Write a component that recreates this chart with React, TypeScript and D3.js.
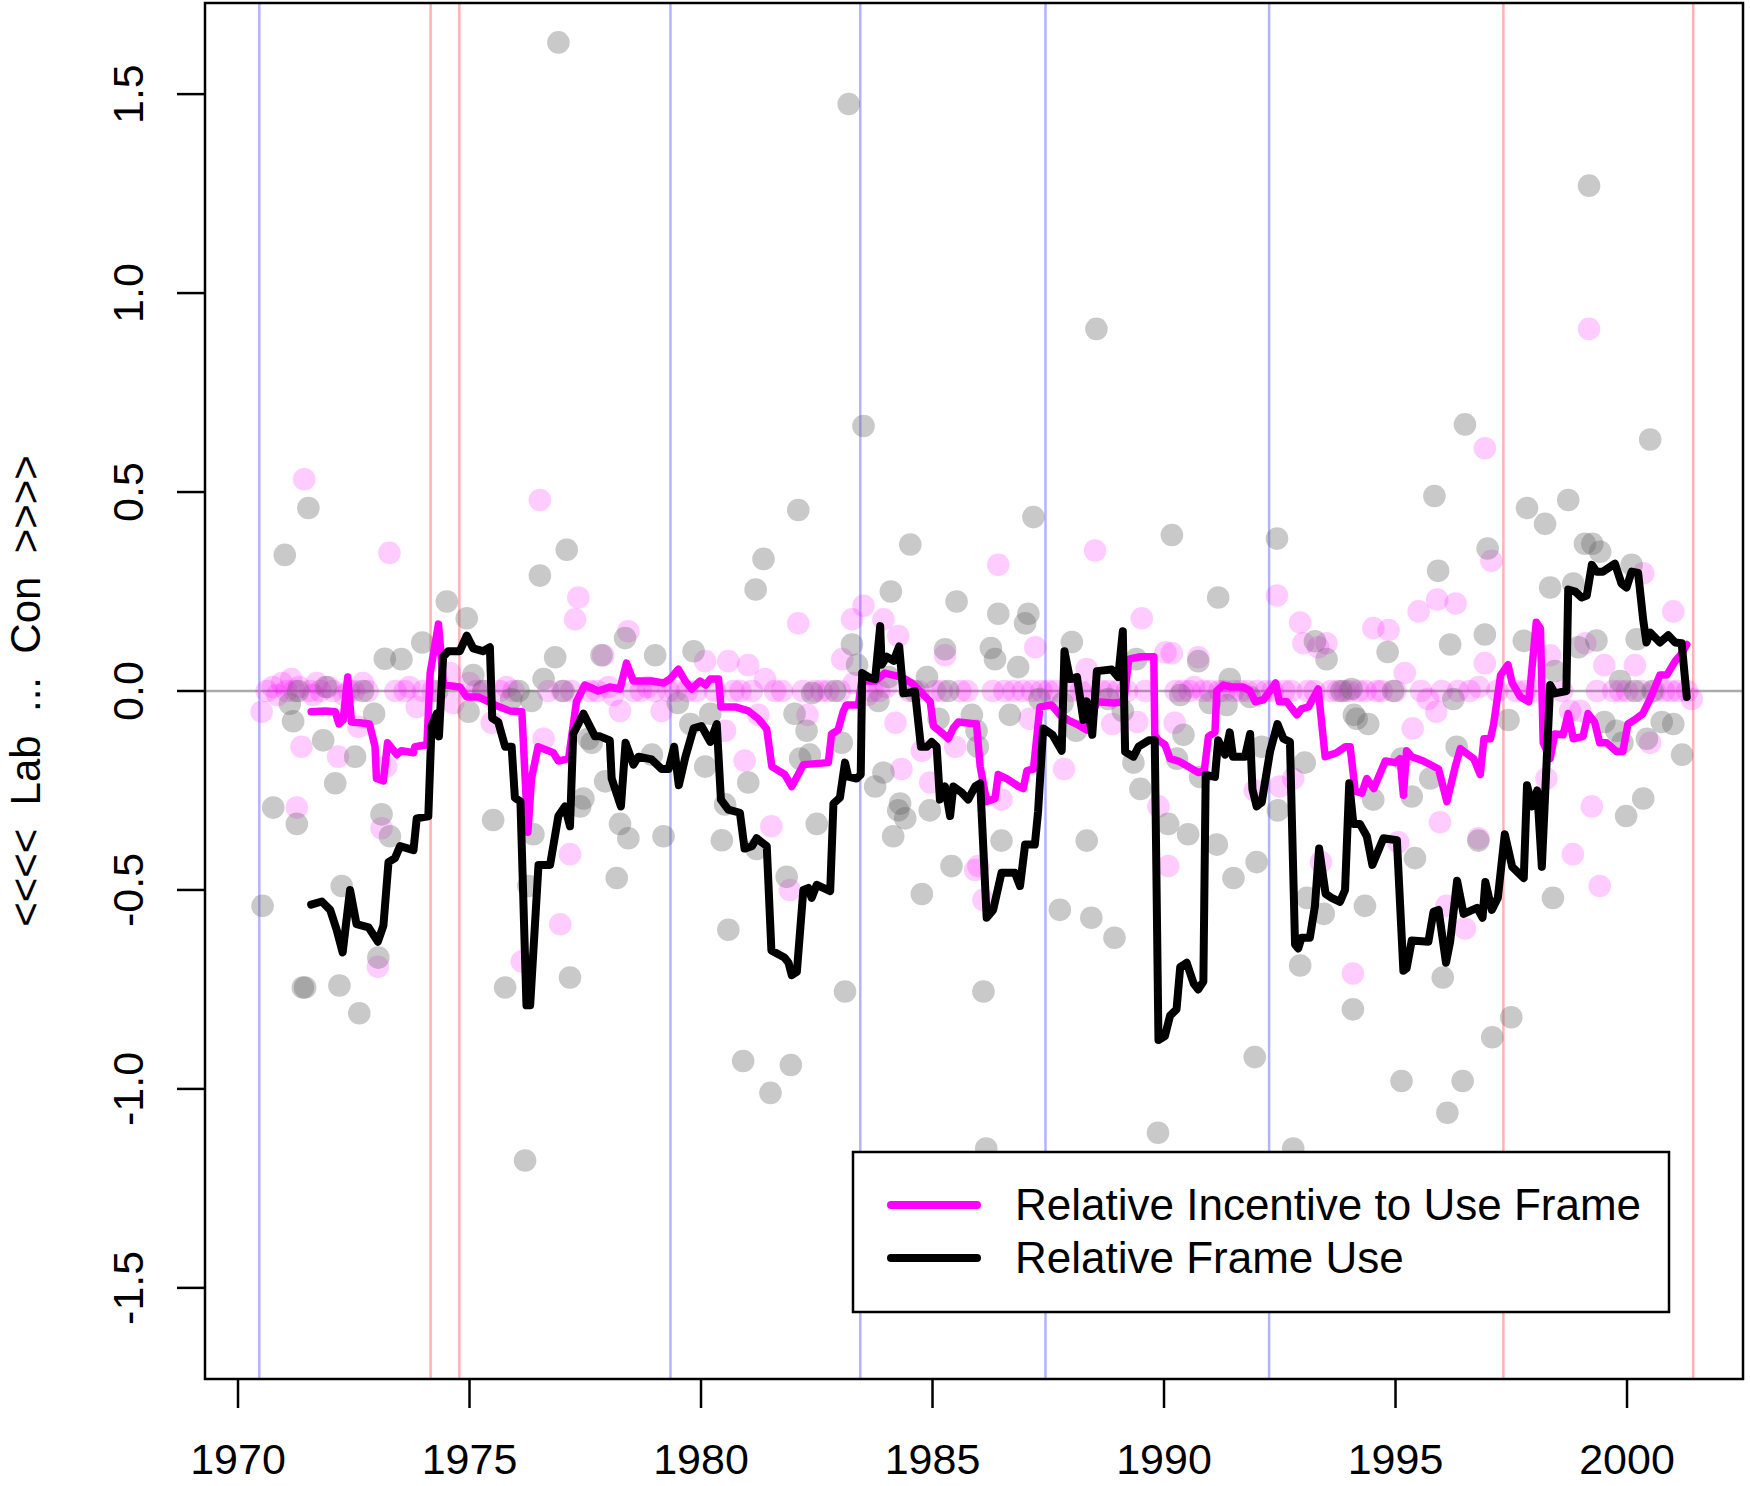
import React from "react";
import * as d3 from "d3";

// ---------- data ----------
const xTicks = [1970, 1975, 1980, 1985, 1990, 1995, 2000];
const yTicks = [-1.5, -1.0, -0.5, 0.0, 0.5, 1.0, 1.5];
const yTickLabels = ["-1.5", "-1.0", "-0.5", "0.0", "0.5", "1.0", "1.5"];

const conElections = [1970.46, 1979.34, 1983.44, 1987.44, 1992.27];
const labElections = [1974.16, 1974.78, 1997.33, 2001.43];

const legendLabels = ["Relative Incentive to Use Frame", "Relative Frame Use"];

const frameUse: [number, number][] = [
  [1971.58,-0.537],[1971.81,-0.529],[1971.99,-0.55],[1972.13,-0.60],[1972.26,-0.657],[1972.42,-0.50],[1972.56,-0.586],[1972.82,-0.594],[1973.02,-0.63],[1973.14,-0.59],[1973.25,-0.43],[1973.39,-0.42],[1973.50,-0.39],[1973.79,-0.40],[1973.86,-0.32],[1974.11,-0.315],[1974.18,-0.088],[1974.29,-0.057],[1974.34,-0.114],[1974.43,0.086],[1974.54,0.10],[1974.79,0.10],[1974.94,0.139],[1975.08,0.107],[1975.29,0.10],[1975.44,0.11],[1975.49,-0.068],[1975.62,-0.078],[1975.77,-0.14],[1975.91,-0.14],[1975.98,-0.268],[1976.10,-0.278],[1976.23,-0.79],[1976.31,-0.79],[1976.49,-0.437],[1976.74,-0.437],[1976.92,-0.314],[1977.06,-0.29],[1977.17,-0.34],[1977.24,-0.108],[1977.46,-0.057],[1977.71,-0.114],[1977.82,-0.114],[1978.03,-0.124],[1978.07,-0.22],[1978.27,-0.29],[1978.37,-0.13],[1978.54,-0.185],[1978.65,-0.165],[1978.93,-0.172],[1979.15,-0.196],[1979.30,-0.196],[1979.42,-0.14],[1979.52,-0.237],[1979.66,-0.167],[1979.84,-0.094],[1980.01,-0.088],[1980.20,-0.128],[1980.34,-0.083],[1980.43,-0.273],[1980.59,-0.298],[1980.84,-0.306],[1980.94,-0.396],[1981.10,-0.39],[1981.20,-0.37],[1981.42,-0.39],[1981.52,-0.652],[1981.80,-0.67],[1981.89,-0.683],[1981.96,-0.714],[1982.07,-0.706],[1982.21,-0.50],[1982.32,-0.495],[1982.39,-0.52],[1982.50,-0.487],[1982.79,-0.503],[1982.86,-0.283],[1983.00,-0.268],[1983.11,-0.18],[1983.18,-0.215],[1983.36,-0.22],[1983.45,-0.21],[1983.48,0.045],[1983.65,0.033],[1983.76,0.03],[1983.87,0.163],[1983.90,0.066],[1984.01,0.086],[1984.16,0.076],[1984.28,0.112],[1984.37,-0.006],[1984.52,-0.004],[1984.62,0],[1984.75,-0.14],[1984.88,-0.14],[1984.98,-0.128],[1985.09,-0.14],[1985.16,-0.273],[1985.27,-0.24],[1985.38,-0.314],[1985.45,-0.24],[1985.63,-0.255],[1985.77,-0.273],[1985.92,-0.24],[1986.03,-0.232],[1986.17,-0.57],[1986.31,-0.55],[1986.49,-0.457],[1986.78,-0.457],[1986.89,-0.49],[1987.00,-0.386],[1987.21,-0.386],[1987.28,-0.303],[1987.39,-0.094],[1987.59,-0.11],[1987.79,-0.15],[1987.85,0.10],[1987.97,0.03],[1988.12,0.035],[1988.26,-0.073],[1988.33,-0.026],[1988.45,-0.11],[1988.55,0.05],[1988.87,0.054],[1989.01,0.035],[1989.11,0.15],[1989.16,-0.153],[1989.34,-0.165],[1989.45,-0.14],[1989.67,-0.124],[1989.80,-0.124],[1989.88,-0.877],[1990.02,-0.867],[1990.13,-0.816],[1990.27,-0.80],[1990.35,-0.694],[1990.49,-0.683],[1990.64,-0.735],[1990.74,-0.75],[1990.85,-0.73],[1990.90,-0.211],[1991.10,-0.216],[1991.17,-0.124],[1991.32,-0.16],[1991.42,-0.104],[1991.49,-0.165],[1991.75,-0.165],[1991.86,-0.108],[1991.91,-0.247],[1992.00,-0.29],[1992.11,-0.28],[1992.29,-0.152],[1992.45,-0.083],[1992.58,-0.12],[1992.72,-0.128],[1992.83,-0.637],[1992.90,-0.647],[1992.97,-0.62],[1993.15,-0.62],[1993.26,-0.54],[1993.35,-0.396],[1993.49,-0.51],[1993.62,-0.52],[1993.80,-0.53],[1993.91,-0.50],[1994.00,-0.232],[1994.09,-0.334],[1994.23,-0.334],[1994.38,-0.365],[1994.50,-0.437],[1994.74,-0.37],[1995.03,-0.375],[1995.17,-0.703],[1995.24,-0.697],[1995.35,-0.627],[1995.71,-0.63],[1995.82,-0.555],[1995.93,-0.55],[1996.09,-0.683],[1996.18,-0.63],[1996.33,-0.477],[1996.47,-0.56],[1996.76,-0.545],[1996.88,-0.57],[1996.94,-0.48],[1997.08,-0.55],[1997.21,-0.52],[1997.36,-0.36],[1997.52,-0.442],[1997.77,-0.47],[1997.84,-0.237],[1997.95,-0.29],[1998.06,-0.25],[1998.16,-0.442],[1998.34,0.015],[1998.44,-0.006],[1998.69,0],[1998.73,0.255],[1998.88,0.25],[1999.02,0.235],[1999.13,0.24],[1999.24,0.317],[1999.34,0.30],[1999.48,0.30],[1999.74,0.32],[1999.88,0.27],[1999.99,0.26],[2000.10,0.30],[2000.24,0.297],[2000.35,0.178],[2000.42,0.122],[2000.50,0.147],[2000.71,0.122],[2000.89,0.14],[2001.04,0.122],[2001.18,0.12],[2001.29,-0.015]
];

const incentive: [number, number][] = [
  [1971.58,-0.052],[1971.88,-0.05],[1972.10,-0.052],[1972.18,-0.083],[1972.27,-0.073],[1972.37,0.035],[1972.45,-0.078],[1972.63,-0.08],[1972.84,-0.083],[1972.96,-0.14],[1972.99,-0.22],[1973.14,-0.226],[1973.23,-0.13],[1973.43,-0.16],[1973.53,-0.15],[1973.79,-0.155],[1973.82,-0.14],[1974.08,-0.135],[1974.15,0.045],[1974.33,0.168],[1974.44,0.015],[1974.79,0.01],[1974.94,-0.015],[1975.19,-0.015],[1975.55,-0.035],[1975.87,-0.05],[1976.13,-0.052],[1976.26,-0.355],[1976.34,-0.22],[1976.48,-0.14],[1976.81,-0.155],[1976.92,-0.176],[1977.14,-0.17],[1977.31,-0.027],[1977.49,0.015],[1977.78,0],[1978.03,0.01],[1978.25,0.005],[1978.39,0.07],[1978.54,0.025],[1978.93,0.025],[1979.19,0.02],[1979.33,0.03],[1979.51,0.055],[1979.66,0.025],[1979.80,0.005],[1979.98,0.025],[1980.10,0.015],[1980.20,0.03],[1980.38,0.03],[1980.43,-0.04],[1980.74,-0.04],[1981.02,-0.05],[1981.24,-0.07],[1981.42,-0.096],[1981.53,-0.19],[1981.81,-0.21],[1981.96,-0.24],[1982.10,-0.21],[1982.21,-0.185],[1982.75,-0.18],[1982.82,-0.108],[1982.96,-0.098],[1983.07,-0.052],[1983.14,-0.035],[1983.40,-0.035],[1983.47,0.025],[1983.76,0.025],[1983.97,0.045],[1984.33,0.035],[1984.55,0.02],[1984.77,-0.005],[1984.95,-0.027],[1985.02,-0.088],[1985.23,-0.108],[1985.34,-0.12],[1985.45,-0.093],[1985.56,-0.078],[1985.95,-0.083],[1986.03,-0.19],[1986.17,-0.278],[1986.35,-0.27],[1986.42,-0.21],[1986.60,-0.22],[1986.86,-0.24],[1986.96,-0.245],[1987.04,-0.20],[1987.18,-0.196],[1987.32,-0.04],[1987.57,-0.035],[1987.75,-0.06],[1987.93,-0.073],[1988.11,-0.083],[1988.33,-0.098],[1988.55,-0.027],[1988.91,-0.03],[1989.13,-0.027],[1989.24,0.08],[1989.49,0.086],[1989.78,0.086],[1989.80,-0.11],[1989.88,-0.124],[1990.02,-0.135],[1990.13,-0.17],[1990.31,-0.176],[1990.45,-0.185],[1990.74,-0.205],[1990.87,-0.20],[1990.96,-0.114],[1991.10,-0.104],[1991.14,0],[1991.28,0.015],[1991.46,0.01],[1991.71,0.01],[1991.86,0],[1991.97,-0.027],[1992.15,-0.022],[1992.41,0.02],[1992.49,-0.027],[1992.65,-0.027],[1992.87,-0.06],[1992.97,-0.045],[1993.12,-0.04],[1993.33,0.005],[1993.48,-0.165],[1993.73,-0.155],[1993.92,-0.14],[1994.02,-0.14],[1994.13,-0.252],[1994.27,-0.257],[1994.38,-0.22],[1994.53,-0.245],[1994.78,-0.176],[1995.00,-0.18],[1995.10,-0.17],[1995.17,-0.262],[1995.24,-0.15],[1995.35,-0.165],[1995.60,-0.176],[1995.93,-0.196],[1996.11,-0.278],[1996.29,-0.19],[1996.40,-0.145],[1996.69,-0.17],[1996.83,-0.21],[1996.91,-0.12],[1997.05,-0.12],[1997.12,-0.083],[1997.27,0.04],[1997.43,0.066],[1997.52,0.02],[1997.70,-0.015],[1997.88,-0.027],[1998.04,0.173],[1998.13,0.157],[1998.19,-0.13],[1998.34,-0.17],[1998.44,-0.108],[1998.62,-0.11],[1998.73,-0.057],[1998.84,-0.12],[1999.05,-0.114],[1999.16,-0.057],[1999.30,-0.078],[1999.41,-0.13],[1999.56,-0.13],[1999.77,-0.152],[1999.91,-0.152],[2000.02,-0.083],[2000.16,-0.073],[2000.34,-0.057],[2000.50,-0.02],[2000.71,0.04],[2000.86,0.04],[2001.04,0.075],[2001.18,0.094],[2001.29,0.117]
];

const grayDots: [number, number][] = [
  [1970.53,-0.54],[1970.76,-0.293],[1971.01,0.342],[1971.12,-0.032],[1971.19,-0.076],[1971.27,-0.334],[1971.30,0.0],[1971.40,-0.745],[1971.45,-0.745],[1971.52,0.46],[1971.84,-0.124],[1971.90,0.01],[1972.10,-0.232],[1972.19,-0.74],[1972.24,-0.49],[1972.53,-0.165],[1972.62,-0.81],[1972.70,0.0],[1972.94,-0.057],[1973.03,-0.67],[1973.10,-0.31],[1973.17,0.081],[1973.28,-0.365],[1973.53,0.08],[1973.98,0.122],[1974.30,0.0],[1974.51,0.225],[1974.94,0.183],[1974.98,-0.052],[1975.08,0.04],[1975.30,0.0],[1975.51,-0.324],[1975.77,-0.745],[1975.90,-0.02],[1976.06,0.0],[1976.20,-1.18],[1976.27,-0.49],[1976.34,-0.025],[1976.38,-0.36],[1976.52,0.29],[1976.60,0.03],[1976.85,0.085],[1976.92,1.63],[1977.03,0.0],[1977.10,0.355],[1977.17,-0.72],[1977.39,-0.29],[1977.46,-0.27],[1977.57,-0.12],[1977.64,-0.13],[1977.85,0.09],[1977.93,-0.227],[1978.18,-0.47],[1978.25,-0.334],[1978.36,0.133],[1978.43,-0.37],[1978.94,-0.16],[1979.01,0.09],[1979.19,-0.365],[1979.50,-0.03],[1979.77,-0.083],[1979.84,0.10],[1980.09,-0.19],[1980.20,-0.057],[1980.45,-0.375],[1980.52,-0.285],[1980.59,-0.60],[1980.91,-0.93],[1981.02,-0.23],[1981.18,0.255],[1981.20,-0.397],[1981.35,0.332],[1981.50,-1.01],[1981.85,-0.467],[1981.94,-0.94],[1982.02,-0.057],[1982.10,0.455],[1982.14,-0.17],[1982.28,-0.10],[1982.35,-0.16],[1982.40,-0.005],[1982.50,-0.334],[1982.90,0.0],[1983.04,-0.13],[1983.11,-0.755],[1983.19,1.475],[1983.26,0.117],[1983.37,0.066],[1983.51,0.666],[1983.76,-0.24],[1983.83,-0.025],[1983.94,-0.205],[1984.05,0.035],[1984.10,0.25],[1984.15,-0.365],[1984.26,-0.30],[1984.30,-0.283],[1984.41,-0.32],[1984.52,0.368],[1984.60,0.0],[1984.77,-0.51],[1984.88,0.035],[1984.94,-0.30],[1985.13,-0.07],[1985.27,0.105],[1985.34,0.0],[1985.41,-0.44],[1985.52,0.225],[1985.85,-0.06],[1985.95,-0.10],[1985.98,-0.14],[1986.10,-0.755],[1986.16,-1.15],[1986.26,0.108],[1986.35,0.08],[1986.42,0.194],[1986.49,-0.376],[1986.67,-0.06],[1986.85,0.06],[1987.00,0.17],[1987.07,0.194],[1987.18,0.437],[1987.31,-0.02],[1987.75,-0.55],[1987.81,-0.03],[1988.01,0.123],[1988.10,-0.10],[1988.33,-0.376],[1988.43,-0.57],[1988.54,0.91],[1988.80,-0.02],[1988.93,-0.62],[1989.11,-0.05],[1989.34,-0.18],[1989.40,0.08],[1989.49,-0.246],[1989.87,-1.11],[1990.09,-0.334],[1990.17,0.392],[1990.28,-0.17],[1990.35,-0.01],[1990.42,-0.11],[1990.52,-0.36],[1990.74,0.075],[1990.78,-0.216],[1990.99,-0.03],[1991.14,-0.386],[1991.17,0.235],[1991.35,-0.035],[1991.42,0.03],[1991.50,-0.47],[1991.86,-0.015],[1991.96,-0.92],[1992.00,-0.43],[1992.11,-0.14],[1992.44,0.383],[1992.46,-0.30],[1992.79,-1.15],[1992.94,-0.69],[1993.04,-0.18],[1993.09,-0.52],[1993.26,0.125],[1993.45,-0.56],[1993.51,0.08],[1993.83,0.0],[1994.05,0.005],[1994.08,-0.80],[1994.10,-0.06],[1994.16,-0.07],[1994.34,-0.54],[1994.41,-0.083],[1994.52,-0.273],[1994.83,0.098],[1994.95,0.0],[1995.13,-0.17],[1995.13,-0.98],[1995.35,-0.265],[1995.42,-0.42],[1995.75,-0.22],[1995.84,0.49],[1995.92,0.302],[1996.02,-0.72],[1996.12,-1.06],[1996.18,0.117],[1996.25,-0.02],[1996.32,-0.14],[1996.45,-0.98],[1996.50,0.67],[1996.79,-0.376],[1996.93,0.142],[1996.99,0.358],[1997.09,-0.87],[1997.44,-0.073],[1997.50,-0.82],[1997.77,0.126],[1997.84,0.46],[1998.23,0.42],[1998.34,0.26],[1998.40,-0.52],[1998.44,0.05],[1998.73,0.48],[1998.84,0.27],[1998.95,0.11],[1999.09,0.37],[1999.18,1.27],[1999.25,0.37],[1999.34,0.127],[1999.42,0.35],[1999.51,-0.078],[1999.77,-0.10],[1999.85,0.025],[1999.90,-0.13],[1999.98,-0.314],[2000.10,0.317],[2000.17,0.0],[2000.21,0.13],[2000.35,-0.27],[2000.43,-0.12],[2000.50,0.632],[2000.55,0.0],[2000.75,-0.078],[2001.00,-0.083],[2001.19,-0.16]
];

const magentaDots: [number, number][] = [
  [1970.51,-0.052],[1971.37,-0.14],[1971.27,-0.293],[1971.43,0.532],[1972.16,-0.165],[1972.60,-0.09],[1973.02,-0.693],[1973.10,-0.345],[1973.20,-0.19],[1973.27,0.347],[1973.86,-0.04],[1974.58,0.045],[1975.48,-0.08],[1976.13,-0.68],[1976.52,0.48],[1976.60,-0.12],[1976.96,-0.586],[1977.17,-0.41],[1977.28,0.18],[1977.35,0.235],[1977.89,0.09],[1978.25,-0.05],[1978.43,0.15],[1979.15,-0.05],[1980.09,0.075],[1980.52,-0.10],[1980.59,0.075],[1980.94,-0.175],[1981.02,0.065],[1981.24,-0.06],[1981.38,0.03],[1981.52,-0.34],[1981.92,-0.50],[1982.10,0.17],[1982.30,-0.06],[1983.05,0.08],[1983.26,0.18],[1983.51,0.214],[1983.94,0.18],[1984.20,-0.08],[1984.26,0.138],[1984.33,-0.196],[1984.77,-0.15],[1984.95,-0.23],[1985.27,0.09],[1985.49,-0.14],[1985.92,-0.45],[1985.99,-0.44],[1986.10,-0.525],[1986.42,0.317],[1986.49,-0.273],[1987.10,-0.07],[1987.22,0.11],[1987.84,-0.196],[1988.33,0.055],[1988.51,0.353],[1988.88,-0.083],[1989.42,-0.078],[1989.52,0.183],[1989.88,-0.29],[1990.03,0.097],[1990.09,-0.44],[1990.17,0.095],[1990.23,-0.08],[1990.74,0.085],[1991.96,-0.25],[1992.44,0.24],[1992.50,-0.24],[1992.79,-0.22],[1992.94,0.172],[1993.01,0.12],[1993.33,0.11],[1993.39,-0.43],[1993.51,0.12],[1994.08,-0.71],[1994.52,0.158],[1994.85,0.153],[1995.06,-0.38],[1995.20,0.045],[1995.37,-0.094],[1995.50,0.20],[1995.88,-0.052],[1995.90,0.23],[1995.96,-0.33],[1996.10,-0.54],[1996.30,0.22],[1996.50,-0.597],[1996.79,-0.37],[1996.93,0.61],[1996.93,0.07],[1997.07,0.327],[1998.26,-0.22],[1998.34,0.09],[1998.77,-0.05],[1998.83,-0.41],[1998.99,-0.05],[1999.10,0.12],[1999.18,0.91],[1999.24,-0.29],[1999.41,-0.49],[1999.51,0.065],[2000.17,0.065],[2000.35,0.296],[2000.50,-0.13],[2001.00,0.2]
];

const magentaZeroDots: [number, number][] = [
  [1970.62,0.0],[1970.75,0.01],[1970.85,-0.01],[1970.95,0.02],[1971.05,0.0],[1971.15,0.03],[1971.22,0.0],[1971.32,0.01],[1971.55,0.0],[1971.62,-0.01],[1971.70,0.02],[1971.78,0.0],[1971.95,0.01],[1972.05,0.0],[1972.30,-0.01],[1972.40,0.0],[1972.50,0.0],[1972.70,0.02],[1972.80,0.0],[1973.40,0.0],[1973.60,0.0],[1973.70,0.01],[1974.00,0.0],[1974.20,0.0],[1974.65,-0.03],[1975.00,0.02],[1975.15,0.0],[1975.30,0.0],[1975.65,0.0],[1975.80,0.01],[1975.95,0.0],[1976.70,0.0],[1977.00,0.0],[1977.20,0.0],[1977.60,0.0],[1977.75,0.0],[1978.00,0.01],[1978.10,-0.01],[1978.55,0.0],[1978.70,0.0],[1978.85,0.01],[1979.00,0.0],[1979.30,0.0],[1979.45,0.0],[1979.70,0.0],[1979.90,0.0],[1980.30,0.0],[1980.70,0.0],[1980.85,0.0],[1981.10,0.0],[1981.60,0.0],[1981.75,0.0],[1982.20,0.0],[1982.45,0.0],[1982.60,0.0],[1982.75,0.0],[1983.00,0.0],[1983.30,0.02],[1983.60,-0.01],[1983.70,0.0],[1983.85,0.0],[1984.00,0.01],[1984.50,0.0],[1984.70,0.0],[1985.05,0.0],[1985.20,0.0],[1985.60,0.0],[1985.75,0.0],[1986.30,0.0],[1986.55,0.0],[1986.75,0.0],[1986.95,0.0],[1987.15,0.0],[1987.35,0.0],[1987.50,0.0],[1987.65,0.0],[1988.00,0.0],[1988.20,0.0],[1988.40,0.0],[1988.65,0.0],[1988.80,0.0],[1989.00,0.0],[1989.20,0.0],[1989.60,0.0],[1990.25,0.0],[1990.40,0.0],[1990.55,0.0],[1990.65,0.01],[1990.85,0.0],[1991.00,0.0],[1991.20,0.0],[1991.30,0.0],[1991.50,0.0],[1991.65,0.0],[1991.80,0.0],[1992.00,0.0],[1992.20,0.0],[1992.35,0.0],[1992.60,0.0],[1992.75,0.0],[1993.10,0.0],[1993.25,0.0],[1993.60,0.0],[1993.75,0.0],[1993.90,0.0],[1994.00,0.0],[1994.20,0.0],[1994.35,0.0],[1994.60,0.0],[1994.70,0.0],[1995.00,0.0],[1995.55,0.0],[1995.70,-0.02],[1996.00,0.0],[1996.35,0.0],[1996.60,0.0],[1996.80,0.01],[1997.20,0.0],[1997.60,0.0],[1997.80,0.0],[1998.05,0.0],[1998.60,0.0],[1999.35,0.0],[1999.70,0.0],[1999.85,0.0],[2000.00,0.0],[2000.30,0.0],[2000.60,0.0],[2000.80,0.0],[2000.95,0.0],[2001.10,0.0],[2001.30,0.0],[2001.40,-0.02]
];

// ---------- layout ----------
const W = 1750;
const H = 1486;
const plot = { left: 205, right: 1743, top: 3, bottom: 1379 };
const FONT = "'Liberation Sans', Arial, Helvetica, sans-serif";

export default function App() {
  const x = d3.scaleLinear().domain([1969.287, 2002.505]).range([plot.left, plot.right]);
  const y = d3.scaleLinear().domain([-1.729, 1.729]).range([plot.bottom, plot.top]);
  const line = d3
    .line<[number, number]>()
    .x((d) => x(d[0]))
    .y((d) => y(d[1]));

  const legend = { x: 853, y: 1152, w: 816, h: 160 };
  const legendRows = [legend.y + 53, legend.y + 106];

  return (
    <svg
      width={W}
      height={H}
      style={{ position: "absolute", left: 0, top: 0, background: "#fff" }}
      fontFamily={FONT}
    >
      <defs>
        <clipPath id="plotclip">
          <rect x={plot.left} y={plot.top} width={plot.right - plot.left} height={plot.bottom - plot.top} />
        </clipPath>
      </defs>
      <rect x={0} y={0} width={W} height={H} fill="#fff" />
      <g clipPath="url(#plotclip)">
        {conElections.map((e, i) => (
          <line key={"c" + i} x1={x(e)} x2={x(e)} y1={plot.top} y2={plot.bottom} stroke="rgba(0,0,255,0.3)" strokeWidth={2.5} />
        ))}
        {labElections.map((e, i) => (
          <line key={"l" + i} x1={x(e)} x2={x(e)} y1={plot.top} y2={plot.bottom} stroke="rgba(255,0,0,0.3)" strokeWidth={2.5} />
        ))}
        <line x1={plot.left} x2={plot.right} y1={y(0)} y2={y(0)} stroke="#aaaaaa" strokeWidth={2.5} />
        {magentaZeroDots.map((d, i) => (
          <circle key={"mz" + i} cx={x(d[0])} cy={y(d[1])} r={11.3} fill="rgba(255,0,255,0.2)" />
        ))}
        {magentaDots.map((d, i) => (
          <circle key={"m" + i} cx={x(d[0])} cy={y(d[1])} r={11.3} fill="rgba(255,0,255,0.2)" />
        ))}
        {grayDots.map((d, i) => (
          <circle key={"g" + i} cx={x(d[0])} cy={y(d[1])} r={11.3} fill="rgba(100,100,100,0.35)" />
        ))}
        <path d={line(incentive) || ""} fill="none" stroke="#ff00ff" strokeWidth={7.5} strokeLinejoin="round" strokeLinecap="round" />
        <path d={line(frameUse) || ""} fill="none" stroke="#000" strokeWidth={8} strokeLinejoin="round" strokeLinecap="round" />
      </g>

      {/* legend */}
      <rect x={legend.x} y={legend.y} width={legend.w} height={legend.h} fill="#fff" stroke="#000" strokeWidth={2.5} />
      <line x1={891} x2={977} y1={legendRows[0]} y2={legendRows[0]} stroke="#ff00ff" strokeWidth={8} strokeLinecap="round" />
      <line x1={891} x2={977} y1={legendRows[1]} y2={legendRows[1]} stroke="#000" strokeWidth={8} strokeLinecap="round" />
      {legendLabels.map((t, i) => (
        <text key={t} x={1015} y={legendRows[i]} dy="0.35em" fontSize={44} fill="#000">
          {t}
        </text>
      ))}

      {/* box */}
      <rect x={plot.left} y={plot.top} width={plot.right - plot.left} height={plot.bottom - plot.top} fill="none" stroke="#000" strokeWidth={2.5} />

      {/* x axis */}
      {xTicks.map((t) => (
        <g key={t}>
          <line x1={x(t)} x2={x(t)} y1={plot.bottom} y2={plot.bottom + 29} stroke="#000" strokeWidth={2.5} />
          <text x={x(t)} y={1474} textAnchor="middle" fontSize={43} fill="#000">
            {t}
          </text>
        </g>
      ))}

      {/* y axis */}
      {yTicks.map((t, i) => (
        <g key={t}>
          <line x1={plot.left - 28} x2={plot.left} y1={y(t)} y2={y(t)} stroke="#000" strokeWidth={2.5} />
          <text
            transform={`translate(143,${y(t)}) rotate(-90)`}
            textAnchor="middle"
            fontSize={43}
            fill="#000"
          >
            {yTickLabels[i]}
          </text>
        </g>
      ))}
      <text
        transform={`translate(40,${y(0)}) rotate(-90)`}
        textAnchor="middle"
        fontSize={42}
        fill="#000"
        style={{ whiteSpace: "pre" }}
      >
        {"<<<<  Lab  ...  Con  >>>>"}
      </text>
    </svg>
  );
}
